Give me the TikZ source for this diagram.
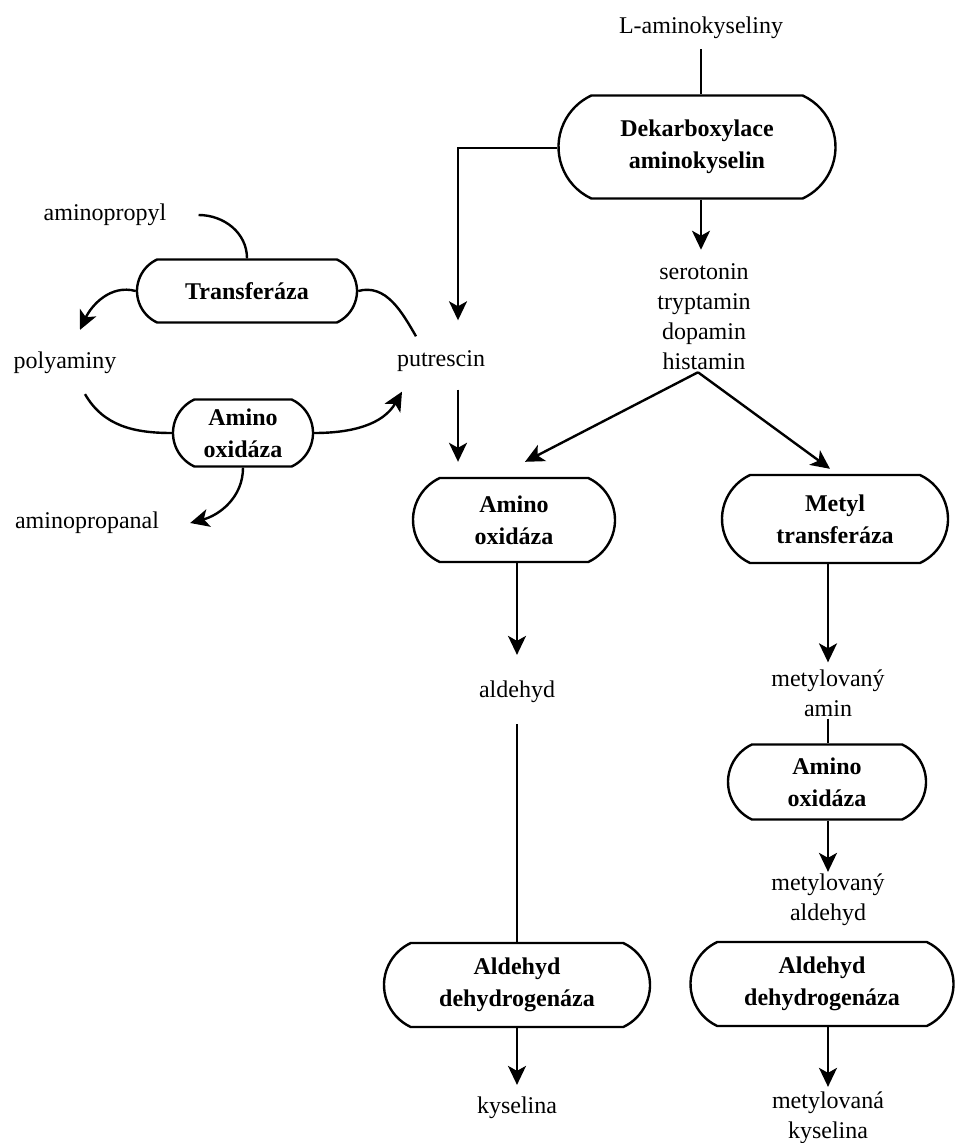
\documentclass[tikz,border=0pt]{standalone}
\usepackage{fontspec}
\setmainfont{Liberation Serif}
\usetikzlibrary{arrows.meta,shapes.misc}

\begin{document}
\begin{tikzpicture}
[x=1pt, y=-1pt, font=\fontsize{24}{30}\selectfont,
  textdecorate/.style={align=center, inner sep=2pt},%
  boxdecorate/.style={draw, line width=2.4pt, shape=rounded rectangle,
    rounded rectangle arc length=130, align=center,
    inner sep=0pt, font=\bfseries\fontsize{24}{32}\selectfont},%
  linedecorate/.style={-, line width=2.4pt},%
  arrowdecorate/.style={-{Stealth[length=19pt,width=18pt,inset=5pt]}, line width=2.4pt}]
\useasboundingbox (0,0) rectangle (954,1143);
%% enzymes
\foreach \nodename/\x/\y/\w/\h/\txt in {dekarb/697/147/277/103/{Dekarboxylace\\aminokyselin},
  transf/247/291/220/63/{Transferáza}, aoLeft/243/433/140/67/{Amino\\oxidáza},
  aoMid/514/520/202/84/{Amino\\oxidáza}, metyl/835/519/226/88/{Metyl\\transferáza},
  aoRight/827/782/198/75/{Amino\\oxidáza}, adhLeft/517/985/266/84/{Aldehyd\\dehydrogenáza},
  adhRight/822/984/263/84/{Aldehyd\\dehydrogenáza}}
{
  \node (\nodename) at (\x,\y) [boxdecorate, minimum width=\w pt, minimum height=\h pt] {\txt};
}
%% substances
\foreach \nodename/\x/\y/\txt in {lamino/701/28/L-aminokyseliny,
  biogen/704/317/{serotonin\\tryptamin\\dopamin\\histamin}, putrescin/441/361/putrescin,
  polyaminy/65/363/polyaminy, aminopropyl/105/215/aminopropyl,
  aminopropanal/87/523/aminopropanal, aldehyd/517/692/aldehyd,
  metamin/828/693/{metylovaný\\amin}, metald/828/900/{metylovaný\\aldehyd},
  kyselina/517/1108/kyselina, metkys/828/1118/{metylovaná\\kyselina}}
{
  \node (\nodename) at (\x,\y) [textdecorate] {\txt};
}
\coordinate (pcorner) at (458,148);
%% main pathway
\draw[linedecorate, shorten <=8pt] (lamino.south) -- (lamino.south |- dekarb.north);
\draw[arrowdecorate, shorten >=12pt] (dekarb.south -| lamino) -- (biogen.north -| lamino);
\draw[arrowdecorate, shorten >=28pt] (dekarb.west |- pcorner) -- (pcorner) -- (pcorner |- putrescin.north);
\draw[arrowdecorate, shorten <=16pt, shorten >=15pt] (pcorner |- putrescin.south) -- (pcorner |- aoMid.north);
\draw[arrowdecorate] ([xshift=-6pt]biogen.south) -- ([xshift=11pt,yshift=15pt]aoMid.north);
\draw[arrowdecorate] ([xshift=-6pt]biogen.south) -- ([xshift=-5pt,yshift=5pt]metyl.north);
%% left column
\draw[arrowdecorate, shorten >=24pt] (aoMid.south -| aldehyd) -- (aldehyd.north);
\draw[linedecorate, shorten <=19pt] (aldehyd.south) -- (aldehyd.south |- adhLeft.north);
\draw[arrowdecorate, shorten >=10pt] (adhLeft.south -| kyselina) -- (kyselina.north);
%% right column
\draw[arrowdecorate, shorten >=5pt] (metyl.south -| metamin) -- (metamin.north);
\draw[linedecorate] (metamin.south) -- (metamin.south |- aoRight.north);
\draw[arrowdecorate] (aoRight.south -| metald) -- (metald.north);
\draw[arrowdecorate, shorten >=3pt] (adhRight.south -| metkys) -- (metkys.north);
%% polyamine cycle
\draw[linedecorate] ([xshift=30pt]aminopropyl.east) to[out=0,in=90] (transf.north);
\draw[arrowdecorate] (transf.west) to[out=165,in=65] ([xshift=15pt,yshift=20pt]polyaminy.north);
\draw[linedecorate] (transf.east) to[out=15,in=120] ([xshift=-25pt,yshift=12pt]putrescin.north);
\draw[linedecorate] ([xshift=20pt,yshift=-18pt]polyaminy.south) to[out=-60,in=180] (aoLeft.west);
\draw[arrowdecorate] (aoLeft.east) to[out=0,in=-120] ([xshift=-39pt,yshift=-18pt]putrescin.south);
\draw[arrowdecorate] (aoLeft.south) to[out=-90,in=15] ([xshift=29pt]aminopropanal.east);
\end{tikzpicture}
\end{document}
